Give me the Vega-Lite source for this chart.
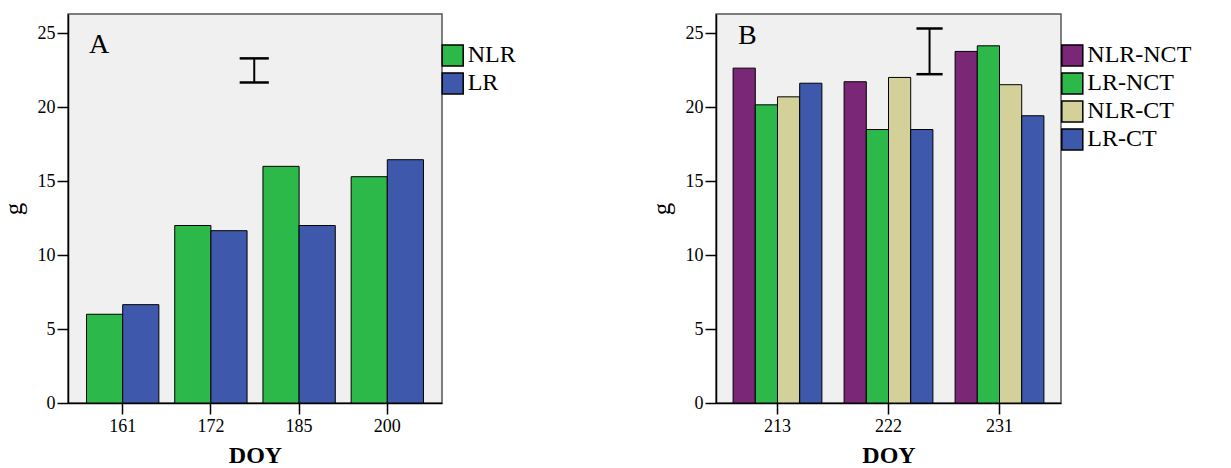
{
  "$schema": "https://vega.github.io/schema/vega-lite/v6.json",
  "padding": {"left": 0, "top": 13, "right": 0, "bottom": 0},
  "autosize": {"type": "pad"},
  "background": "#ffffff",
  "config": {
    "font": "Liberation Serif",
    "view": {"fill": "#F0F0F0", "stroke": "#555555", "strokeWidth": 1.5},
    "axis": {
      "labelFont": "Liberation Serif", "labelFontSize": 18, "labelColor": "#000000",
      "tickColor": "#000000", "tickWidth": 1.5, "tickSize": 11,
      "domainColor": "#000000", "domainWidth": 1.5, "grid": false,
      "titleFont": "Liberation Serif", "titleColor": "#000000"
    },
    "axisX": {"labelAngle": 0, "labelPadding": 3, "titleFontSize": 24, "titleFontWeight": "bold", "titlePadding": 8},
    "axisY": {"labelPadding": 2, "titleFontSize": 25, "titleFontWeight": "normal", "titlePadding": 11},
    "legend": {
      "symbolType": "square", "symbolSize": 441, "symbolStrokeColor": "#000000", "symbolStrokeWidth": 1.5,
      "symbolOpacity": 1, "labelFont": "Liberation Serif", "labelFontSize": 24, "labelColor": "#000000",
      "labelOffset": 3, "rowPadding": 0, "padding": 0
    }
  },
  "spacing": 131,
  "resolve": {"scale": {"color": "independent", "x": "independent", "y": "independent", "xOffset": "independent"}},
  "hconcat": [
    {
      "width": 374,
      "height": 389,
      "data": {"values": [
        {"DOY": "161", "group": "NLR", "g": 6.0},
        {"DOY": "161", "group": "LR", "g": 6.65},
        {"DOY": "172", "group": "NLR", "g": 12.0},
        {"DOY": "172", "group": "LR", "g": 11.65},
        {"DOY": "185", "group": "NLR", "g": 16.0},
        {"DOY": "185", "group": "LR", "g": 12.0},
        {"DOY": "200", "group": "NLR", "g": 15.3},
        {"DOY": "200", "group": "LR", "g": 16.45}
      ]},
      "resolve": {"scale": {"x": "independent", "xOffset": "independent"}},
      "layer": [
        {
          "mark": {"type": "bar", "stroke": "#000000", "strokeWidth": 1},
          "encoding": {
            "x": {"field": "DOY", "type": "nominal", "scale": {"paddingInner": 0.18, "paddingOuter": 0.21}, "axis": {"title": "DOY"}},
            "xOffset": {"field": "group", "type": "nominal", "sort": ["NLR", "LR"]},
            "y": {"field": "g", "type": "quantitative", "scale": {"domain": [0, 26.3], "nice": false}, "axis": {"values": [0, 5, 10, 15, 20, 25], "title": "g"}},
            "color": {"field": "group", "type": "nominal", "sort": ["NLR", "LR"],
              "scale": {"domain": ["NLR", "LR"], "range": ["#2DB84A", "#3E58AB"]},
              "legend": {"title": null, "orient": "none", "legendX": 372.7, "legendY": 29.4}}
          }
        },
        {
          "data": {"values": [{"lo": 21.67, "hi": 23.3}]},
          "mark": {"type": "rule", "color": "#000000", "strokeWidth": 2},
          "encoding": {
            "x": {"datum": 0.498, "type": "quantitative", "scale": {"domain": [0, 1], "nice": false, "zero": false}, "axis": null},
            "y": {"field": "lo", "type": "quantitative", "scale": {"domain": [0, 26.3], "nice": false}, "axis": {"values": [0, 5, 10, 15, 20, 25], "title": "g"}},
            "y2": {"field": "hi"}
          }
        },
        {
          "data": {"values": [{"v": 21.67}, {"v": 23.3}]},
          "mark": {"type": "rule", "color": "#000000", "strokeWidth": 2.5},
          "encoding": {
            "x": {"datum": 0.459, "type": "quantitative", "scale": {"domain": [0, 1], "nice": false, "zero": false}, "axis": null},
            "x2": {"datum": 0.537},
            "y": {"field": "v", "type": "quantitative", "scale": {"domain": [0, 26.3], "nice": false}, "axis": {"values": [0, 5, 10, 15, 20, 25], "title": "g"}}
          }
        },
        {
          "data": {"values": [{"label": "A"}]},
          "mark": {"type": "text", "fontSize": 28, "align": "left", "baseline": "middle", "font": "Liberation Serif", "color": "#000000"},
          "encoding": {
            "x": {"datum": 0.056, "type": "quantitative", "scale": {"domain": [0, 1], "nice": false, "zero": false}, "axis": null},
            "y": {"datum": 24.2, "type": "quantitative", "scale": {"domain": [0, 26.3], "nice": false}, "axis": {"values": [0, 5, 10, 15, 20, 25], "title": "g"}},
            "text": {"field": "label"}
          }
        }
      ]
    },
    {
      "width": 345,
      "height": 389,
      "data": {"values": [
        {"DOY": "213", "group": "NLR-NCT", "g": 22.64},
        {"DOY": "213", "group": "LR-NCT", "g": 20.16},
        {"DOY": "213", "group": "NLR-CT", "g": 20.7},
        {"DOY": "213", "group": "LR-CT", "g": 21.62},
        {"DOY": "222", "group": "NLR-NCT", "g": 21.72},
        {"DOY": "222", "group": "LR-NCT", "g": 18.49},
        {"DOY": "222", "group": "NLR-CT", "g": 22.01},
        {"DOY": "222", "group": "LR-CT", "g": 18.49},
        {"DOY": "231", "group": "NLR-NCT", "g": 23.77},
        {"DOY": "231", "group": "LR-NCT", "g": 24.15},
        {"DOY": "231", "group": "NLR-CT", "g": 21.52},
        {"DOY": "231", "group": "LR-CT", "g": 19.42}
      ]},
      "resolve": {"scale": {"x": "independent", "xOffset": "independent"}},
      "layer": [
        {
          "mark": {"type": "bar", "stroke": "#000000", "strokeWidth": 1},
          "encoding": {
            "x": {"field": "DOY", "type": "nominal", "scale": {"paddingInner": 0.2, "paddingOuter": 0.154}, "axis": {"title": "DOY"}},
            "xOffset": {"field": "group", "type": "nominal", "sort": ["NLR-NCT", "LR-NCT", "NLR-CT", "LR-CT"]},
            "y": {"field": "g", "type": "quantitative", "scale": {"domain": [0, 26.3], "nice": false}, "axis": {"values": [0, 5, 10, 15, 20, 25], "title": "g"}},
            "color": {"field": "group", "type": "nominal", "sort": ["NLR-NCT", "LR-NCT", "NLR-CT", "LR-CT"],
              "scale": {"domain": ["NLR-NCT", "LR-NCT", "NLR-CT", "LR-CT"], "range": ["#7B2778", "#2DB84A", "#D4D09A", "#3E58AB"]},
              "legend": {"title": null, "orient": "none", "legendX": 344.3, "legendY": 29.4}}
          }
        },
        {
          "data": {"values": [{"lo": 22.23, "hi": 25.32}]},
          "mark": {"type": "rule", "color": "#000000", "strokeWidth": 2},
          "encoding": {
            "x": {"datum": 0.619, "type": "quantitative", "scale": {"domain": [0, 1], "nice": false, "zero": false}, "axis": null},
            "y": {"field": "lo", "type": "quantitative", "scale": {"domain": [0, 26.3], "nice": false}, "axis": {"values": [0, 5, 10, 15, 20, 25], "title": "g"}},
            "y2": {"field": "hi"}
          }
        },
        {
          "data": {"values": [{"v": 22.23}, {"v": 25.32}]},
          "mark": {"type": "rule", "color": "#000000", "strokeWidth": 2.5},
          "encoding": {
            "x": {"datum": 0.581, "type": "quantitative", "scale": {"domain": [0, 1], "nice": false, "zero": false}, "axis": null},
            "x2": {"datum": 0.657},
            "y": {"field": "v", "type": "quantitative", "scale": {"domain": [0, 26.3], "nice": false}, "axis": {"values": [0, 5, 10, 15, 20, 25], "title": "g"}}
          }
        },
        {
          "data": {"values": [{"label": "B"}]},
          "mark": {"type": "text", "fontSize": 28, "align": "left", "baseline": "middle", "font": "Liberation Serif", "color": "#000000"},
          "encoding": {
            "x": {"datum": 0.064, "type": "quantitative", "scale": {"domain": [0, 1], "nice": false, "zero": false}, "axis": null},
            "y": {"datum": 24.78, "type": "quantitative", "scale": {"domain": [0, 26.3], "nice": false}, "axis": {"values": [0, 5, 10, 15, 20, 25], "title": "g"}},
            "text": {"field": "label"}
          }
        }
      ]
    }
  ]
}
